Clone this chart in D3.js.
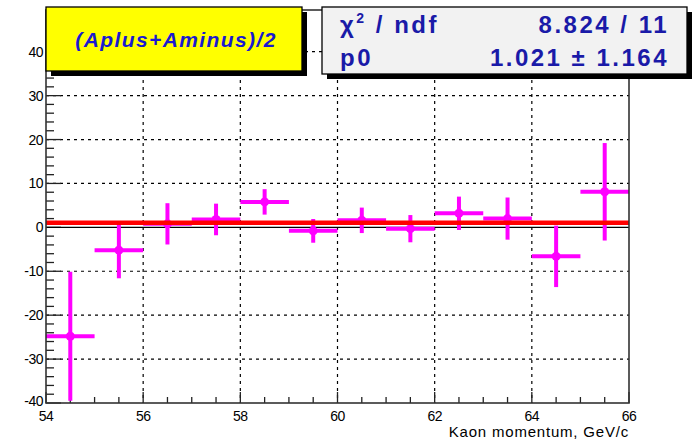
<!DOCTYPE html>
<html>
<head>
<meta charset="utf-8">
<script src="https://cdn.jsdelivr.net/npm/d3@7"></script>
<style>
  html, body { margin: 0; padding: 0; background: #fff; }
  svg { display: block; font-family: "Liberation Sans", Arial, sans-serif; }
</style>
</head>
<body>
<svg id="chart" width="694" height="442"></svg>
<script>
// bin centres (1 GeV/c wide bins), values and errors
const binCenters = [54.5, 55.5, 56.5, 57.5, 58.5, 59.5, 60.5, 61.5, 62.5, 63.5, 64.5, 65.5];
const values     = [-24.8, -5.2, 0.8, 1.8, 5.8, -0.8, 1.6, -0.3, 3.2, 2.0, -6.6, 8.1];
const errors     = [14.7, 6.4, 4.7, 3.6, 2.9, 2.7, 2.9, 3.1, 3.8, 4.8, 7.0, 11.1];
const binHalf = 0.5;

const xTicks = [54, 56, 58, 60, 62, 64, 66];
const yTicks = [-40, -30, -20, -10, 0, 10, 20, 30, 40];
const fitP0 = 1.021;

const titleText = '(Aplus+Aminus)/2';
const statRows = [
  { left: 'chi2', right: '8.824 / 11' },
  { left: 'p0', right: '1.021 \u00b1 1.164' }
];
const xTitle = 'Kaon momentum, GeV/c';

(function () {
  const svg = d3.select('#chart');
  const L = 46, R = 629, T = 10, B = 403;

  const x = d3.scaleLinear().domain([54, 66]).range([L, R]);
  const y = d3.scaleLinear().domain([-40, 49.5]).range([B, T]);

  const clip = svg.append('defs').append('clipPath').attr('id', 'frameClip');
  clip.append('rect').attr('x', L).attr('y', T).attr('width', R - L).attr('height', B - T);

  // grid
  const grid = svg.append('g').attr('stroke', '#000').attr('stroke-width', 1.2)
    .attr('stroke-dasharray', '3,4');
  xTicks.filter(v => v > 54 && v < 66).forEach(v => {
    grid.append('line').attr('x1', x(v)).attr('x2', x(v)).attr('y1', T).attr('y2', B);
  });
  yTicks.filter(v => v > -40 && v !== 0).forEach(v => {
    grid.append('line').attr('x1', L).attr('x2', R).attr('y1', y(v)).attr('y2', y(v));
  });

  // axes with inside ticks
  const xMinor = d3.range(54, 66.01, 0.5);
  const yMinor = d3.range(-40, 49, 2);
  const ax = svg.append('g').attr('stroke', '#222').attr('stroke-width', 1.3);
  xMinor.forEach(v => {
    const major = Math.abs(v % 2) < 1e-6;
    ax.append('line').attr('x1', x(v)).attr('x2', x(v))
      .attr('y1', B).attr('y2', B - (major ? 11 : 6));
  });
  yMinor.forEach(v => {
    const major = Math.abs(v % 10) < 1e-6;
    ax.append('line').attr('x1', L).attr('x2', L + (major ? 15 : 8))
      .attr('y1', y(v)).attr('y2', y(v));
  });

  // zero baseline
  svg.append('line').attr('x1', L).attr('x2', R).attr('y1', y(0)).attr('y2', y(0))
    .attr('stroke', '#000').attr('stroke-width', 1.3);

  // data points
  const pts = d3.range(binCenters.length).map(i => ({ c: binCenters[i], v: values[i], e: errors[i] }));
  const gData = svg.append('g').attr('clip-path', 'url(#frameClip)');
  const mag = '#ff00ff';
  gData.selectAll('line.h').data(pts).join('line').attr('class', 'h')
    .attr('x1', d => x(d.c - binHalf)).attr('x2', d => x(d.c + binHalf))
    .attr('y1', d => y(d.v)).attr('y2', d => y(d.v))
    .attr('stroke', mag).attr('stroke-width', 4);
  gData.selectAll('line.v').data(pts).join('line').attr('class', 'v')
    .attr('x1', d => x(d.c)).attr('x2', d => x(d.c))
    .attr('y1', d => y(d.v - d.e)).attr('y2', d => y(d.v + d.e))
    .attr('stroke', mag).attr('stroke-width', 4);
  gData.selectAll('circle').data(pts).join('circle')
    .attr('cx', d => x(d.c)).attr('cy', d => y(d.v)).attr('r', 4.5).attr('fill', mag);

  // fit line
  svg.append('line').attr('x1', L).attr('x2', R).attr('y1', y(fitP0)).attr('y2', y(fitP0))
    .attr('stroke', '#ff0000').attr('stroke-width', 4.5);

  // frame
  svg.append('rect').attr('x', L).attr('y', T).attr('width', R - L).attr('height', B - T)
    .attr('fill', 'none').attr('stroke', '#333').attr('stroke-width', 1.6);

  // tick labels
  const lab = svg.append('g').attr('font-size', 14).attr('fill', '#000');
  yTicks.forEach(v => {
    lab.append('text').attr('x', L - 3).attr('y', y(v) + (v === -40 ? 3 : 5))
      .attr('text-anchor', 'end').attr('letter-spacing', -0.5).text(v);
  });
  xTicks.forEach(v => {
    lab.append('text').attr('x', x(v)).attr('y', B + 18)
      .attr('text-anchor', 'middle').attr('letter-spacing', -0.5).text(v);
  });
  lab.append('text').attr('x', R).attr('y', 437).attr('text-anchor', 'end')
    .attr('font-size', 15).attr('letter-spacing', 0.8).text(xTitle);

  // boxes with drop shadow
  function box(x0, y0, w, h, fill) {
    svg.append('rect').attr('x', x0 + 5).attr('y', y0 + 5).attr('width', w).attr('height', h).attr('fill', '#000');
    svg.append('rect').attr('x', x0).attr('y', y0).attr('width', w).attr('height', h)
      .attr('fill', fill).attr('stroke', '#000').attr('stroke-width', 1.3);
  }
  box(46, 7, 256, 64, '#ffff00');
  svg.append('text').attr('x', 176).attr('y', 47).attr('text-anchor', 'middle')
    .attr('font-size', 21).attr('font-weight', 'bold').attr('font-style', 'italic')
    .attr('letter-spacing', 1.4).attr('fill', '#1a1ad0').text(titleText);

  box(322, 7, 365, 67, '#f2f2f2');
  const st = svg.append('g').attr('font-size', 24).attr('font-weight', 'bold')
    .attr('fill', '#1a1aa8').attr('letter-spacing', 2.5);
  const t1 = st.append('text').attr('x', 340).attr('y', 33);
  t1.append('tspan').text('\u03c7');
  t1.append('tspan').attr('dy', -10).attr('font-size', 14).text('2');
  t1.append('tspan').attr('dy', 10).text(' / ndf');
  st.append('text').attr('x', 669).attr('y', 33).attr('text-anchor', 'end').text(statRows[0].right);
  st.append('text').attr('x', 340).attr('y', 66).text(statRows[1].left);
  st.append('text').attr('x', 669).attr('y', 66).attr('text-anchor', 'end').text(statRows[1].right);
})();
</script>
</body>
</html>
